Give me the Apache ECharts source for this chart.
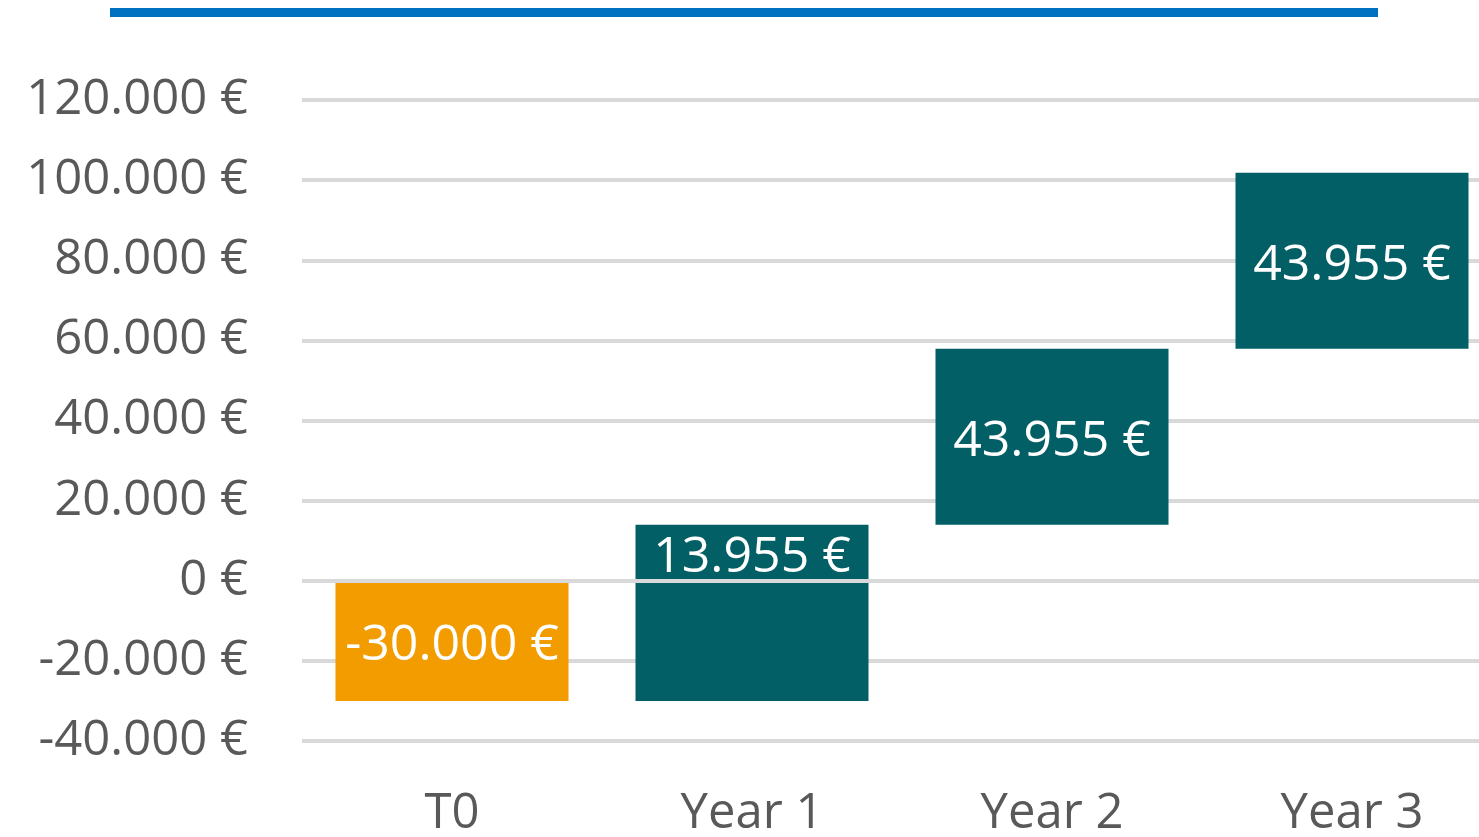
<!DOCTYPE html>
<html>
<head>
<meta charset="utf-8">
<script src="https://cdn.jsdelivr.net/npm/echarts@6/dist/echarts.min.js"></script>
<style>
  html, body { margin: 0; padding: 0; background: #fff; }
  #main { width: 1479px; height: 837px; }
</style>
</head>
<body>
<div id="main"></div>
<script>
var periods = ['T0', 'Year 1', 'Year 2', 'Year 3'];
var cashFlows = [-30000, 43955, 43955, 43955];
var yTicks = [-40000, -20000, 0, 20000, 40000, 60000, 80000, 100000, 120000];

var ORANGE = '#F39C00';
var TEAL = '#035F66';

function euro(v) {
  var s = Math.abs(v).toString().replace(/\B(?=(\d{3})+(?!\d))/g, '.');
  return (v < 0 ? '-' : '') + s + ' €';
}

// split each waterfall step in a part above and below zero
var posSpacer = [], posPart = [], negSpacer = [], negPart = [];
var cum = 0;
for (var i = 0; i < cashFlows.length; i++) {
  var a = cum, b = cum + cashFlows[i];
  cum = b;
  var lo = Math.min(a, b), hi = Math.max(a, b);
  var color = cashFlows[i] < 0 ? ORANGE : TEAL;
  if (hi > 0) {
    posSpacer.push(Math.max(lo, 0));
    posPart.push({ value: hi - Math.max(lo, 0), itemStyle: { color: color } });
  } else {
    posSpacer.push('-');
    posPart.push('-');
  }
  if (lo < 0) {
    negSpacer.push(Math.min(hi, 0));
    negPart.push({ value: lo - Math.min(hi, 0), itemStyle: { color: color },
      label: { show: cashFlows[i] < 0 } });
  } else {
    negSpacer.push('-');
    negPart.push('-');
  }
}

var chart = echarts.init(document.getElementById('main'));

var labelStyle = {
  show: true,
  position: 'inside',
  offset: [0, 5],
  color: '#fff',
  fontSize: 50,
  fontFamily: 'Open Sans',
  formatter: function (p) { return euro(p.value); }
};

var option = {
  animation: false,
  graphic: [
    { type: 'rect', shape: { x: 110, y: 8, width: 1268, height: 9 }, style: { fill: '#0070C0' } }
  ],
  grid: { left: 302, right: -23, top: 100, bottom: 96, outerBoundsMode: 'none' },
  xAxis: {
    type: 'category',
    data: periods,
    axisLine: { show: false },
    axisTick: { show: false },
    axisLabel: { color: '#595959', fontSize: 49, fontFamily: 'Open Sans', margin: 49 }
  },
  yAxis: {
    type: 'value',
    min: yTicks[0],
    max: yTicks[yTicks.length - 1],
    interval: 20000,
    axisLine: { show: false },
    axisTick: { show: false },
    splitLine: { lineStyle: { color: '#D9D9D9', width: 4 } },
    axisLabel: {
      color: '#595959', fontSize: 49, fontFamily: 'Open Sans', margin: 54,
      formatter: euro
    }
  },
  series: [
    { type: 'bar', stack: 'w', data: posSpacer, barWidth: 233,
      itemStyle: { color: 'transparent' }, silent: true },
    { type: 'bar', stack: 'w', data: posPart, barWidth: 233, label: labelStyle },
    { type: 'bar', stack: 'w', data: negSpacer, barWidth: 233,
      itemStyle: { color: 'transparent' }, silent: true },
    { type: 'bar', stack: 'w', data: negPart, barWidth: 233,
      label: Object.assign({}, labelStyle, { show: false }),
      markLine: {
        silent: true, symbol: 'none', label: { show: false },
        lineStyle: { color: '#D9D9D9', width: 4, type: 'solid' },
        data: [{ yAxis: 0 }]
      } }
  ]
};

chart.setOption(option);
</script>
</body>
</html>
